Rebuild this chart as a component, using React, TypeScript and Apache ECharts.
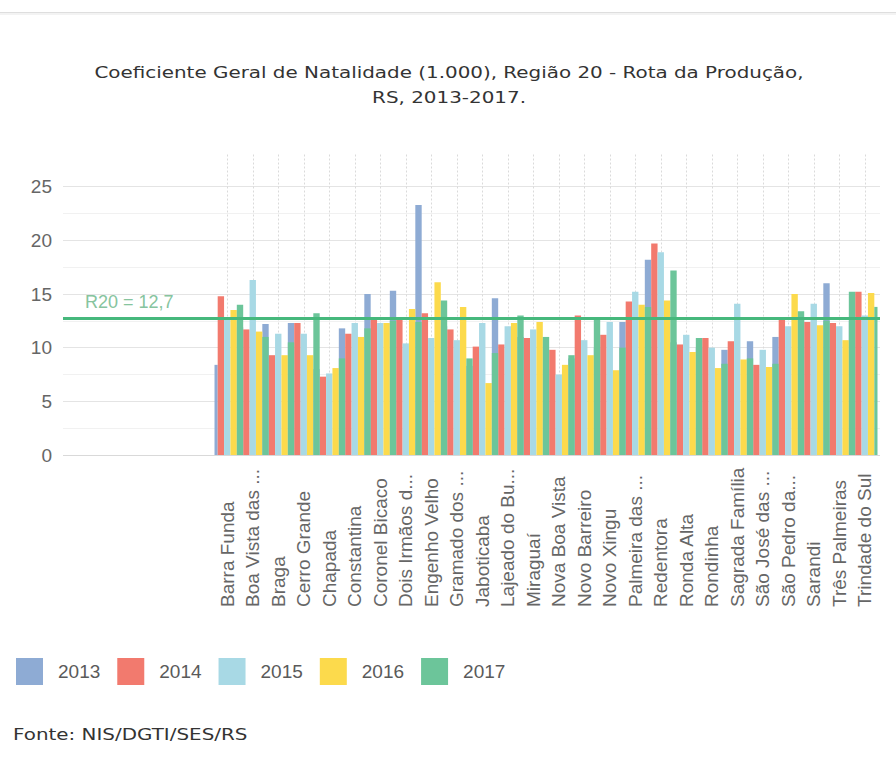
import React, { useEffect, useRef } from "react";
import * as echarts from "echarts";

const categories = [
  "Barra Funda", "Boa Vista das ...", "Braga", "Cerro Grande", "Chapada",
  "Constantina", "Coronel Bicaco", "Dois Irmãos d...", "Engenho Velho",
  "Gramado dos ...", "Jaboticaba", "Lajeado do Bu...", "Miraguaí",
  "Nova Boa Vista", "Novo Barreiro", "Novo Xingu", "Palmeira das ...",
  "Redentora", "Ronda Alta", "Rondinha", "Sagrada Família", "São José das ...",
  "São Pedro da...", "Sarandi", "Três Palmeiras", "Trindade do Sul",
];

const years = ["2013", "2014", "2015", "2016", "2017"];

const values2013 = [8.4, 11.9, 12.2, 12.3, 8.0, 11.8, 15.0, 15.3, 23.3, 12.0, 8.3, 14.6, 11.0, 8.0, 9.0, 10.0, 12.4, 18.2, 10.5, 10.0, 9.8, 10.6, 11.0, 12.8, 16.0, 12.5];
const values2014 = [14.8, 11.7, 9.3, 12.3, 7.3, 11.3, 12.6, 12.8, 13.2, 11.7, 10.1, 10.3, 10.9, 9.8, 13.0, 11.2, 14.3, 19.7, 10.3, 10.9, 10.6, 8.4, 12.6, 12.4, 12.3, 15.2];
const values2015 = [12.6, 16.3, 11.3, 11.3, 7.6, 12.3, 12.3, 10.4, 10.9, 10.7, 12.3, 12.0, 11.7, 7.5, 10.7, 12.4, 15.2, 18.9, 11.2, 10.0, 14.1, 9.8, 12.0, 14.1, 12.0, 13.0];
const values2016 = [13.5, 11.5, 9.3, 9.3, 8.1, 11.0, 12.3, 13.6, 16.1, 13.8, 6.7, 12.3, 12.4, 8.4, 9.3, 7.9, 14.0, 14.4, 9.6, 8.1, 8.9, 8.2, 15.0, 12.1, 10.7, 15.1];
const values2017 = [14.0, 11.0, 10.5, 13.2, 9.0, 11.8, 12.5, 12.4, 14.4, 9.0, 9.5, 13.0, 11.0, 9.3, 12.6, 10.0, 13.8, 17.2, 10.9, 8.5, 9.0, 8.5, 13.4, 12.5, 15.2, 13.8];

const seriesValues = [values2013, values2014, values2015, values2016, values2017];
const seriesColors = ["#8eabd4", "#f27a6e", "#a8d9e5", "#fcda4c", "#6cc59a"];

const regionAverage = 12.7;
const regionLabel = "R20 = 12,7";

const titleLines = [
  "Coeficiente Geral de Natalidade (1.000), Região 20 - Rota da Produção,",
  "RS, 2013-2017.",
];
const sourceText = "Fonte: NIS/DGTI/SES/RS";

const yMin = 0;
const yMax = 28;
const yStep = 2.5;
const yLabelStep = 5;

export default function App() {
  const ref = useRef<HTMLDivElement>(null);

  useEffect(() => {
    if (!ref.current) return;
    const chart = echarts.init(ref.current, null, { renderer: "svg" });

    const gridTop = 154.5;
    const gridHeight = 300.5;
    const barsLeft = 214.5;
    const barsWidth = 663;
    const band = barsWidth / categories.length;
    const barWidth = band / 4;
    const textStretch = 1.245;

    const splitColors: string[] = [];
    for (let i = 0; i < 12; i++) {
      if (i === 0) splitColors.push("#d9d9d9");
      else if (i === 11) splitColors.push("rgba(0,0,0,0)");
      else splitColors.push(i % 2 === 0 ? "#e4e4e4" : "#f1f1f1");
    }

    const option: any = {
      animation: false,
      backgroundColor: "#ffffff",
      legend: {
        data: years,
        left: 11,
        top: 653,
        itemWidth: 27,
        itemHeight: 27,
        itemGap: 17,
        icon: "rect",
        textStyle: {
          fontFamily: "Liberation Sans",
          fontSize: 19,
          color: "#5a5a5a",
          padding: [0, 0, 0, 10],
        },
      },
      graphic: [
        { type: "rect", left: 0, top: 12, shape: { width: 896, height: 1 }, style: { fill: "#dedede" } },
        { type: "rect", left: 0, top: 13, shape: { width: 896, height: 2 }, style: { fill: "#f3f3f3" } },
        ...titleLines.map((line, i) => ({
          type: "text",
          x: 449,
          y: 72 + i * 25,
          scaleX: textStretch,
          style: {
            text: line,
            font: "16px 'DejaVu Sans'",
            fill: "#333333",
            align: "center",
            verticalAlign: "middle",
          },
        })),
        {
          type: "text",
          x: 13,
          y: 734,
          scaleX: textStretch,
          style: {
            text: sourceText,
            font: "16px 'DejaVu Sans'",
            fill: "#333333",
            align: "left",
            verticalAlign: "middle",
          },
        },
      ],
      grid: [
        { left: 63, width: 817, top: gridTop, height: gridHeight },
        { left: barsLeft, width: barsWidth, top: gridTop, height: gridHeight },
        { left: barsLeft + band / 2, width: barsWidth - band, top: gridTop, height: gridHeight },
      ],
      xAxis: [
        { type: "value", gridIndex: 0, min: 0, max: 1, show: false },
        {
          type: "category",
          gridIndex: 1,
          data: categories,
          axisLine: { show: false },
          axisTick: { show: false },
          splitLine: { show: false },
          axisLabel: {
            interval: 0,
            rotate: 90,
            align: "left",
            verticalAlign: "middle",
            margin: 152,
            fontFamily: "Liberation Sans",
            fontSize: 19,
            color: "#666666",
          },
        },
        {
          type: "category",
          gridIndex: 2,
          data: categories,
          boundaryGap: false,
          axisLine: { show: false },
          axisTick: { show: false },
          axisLabel: { show: false },
          splitLine: {
            show: true,
            interval: 0,
            lineStyle: { color: "#dadada", width: 1, type: [2, 2] },
          },
        },
      ],
      yAxis: [
        {
          type: "value",
          gridIndex: 0,
          min: yMin,
          max: yMax,
          interval: yStep,
          axisLine: { show: false },
          axisTick: { show: false },
          axisLabel: {
            margin: 11,
            fontFamily: "Liberation Sans",
            fontSize: 19,
            color: "#666666",
            showMaxLabel: false,
            formatter: (v: number) => (v % yLabelStep === 0 ? String(v) : ""),
          },
          splitLine: {
            show: true,
            showMaxLine: false,
            lineStyle: { color: splitColors, width: 1 },
          },
        },
        { type: "value", gridIndex: 1, min: yMin, max: yMax, show: false, splitLine: { show: false } },
        { type: "value", gridIndex: 2, min: 0, max: 1, show: false, splitLine: { show: false } },
      ],
      series: [
        ...years.map((y, i) => ({
          name: y,
          type: "bar",
          xAxisIndex: 1,
          yAxisIndex: 1,
          data: seriesValues[i],
          barWidth: barWidth,
          barGap: "0%",
          itemStyle: { color: seriesColors[i] },
        })),
        {
          name: "R20",
          type: "line",
          xAxisIndex: 0,
          yAxisIndex: 0,
          data: [[0, regionAverage]],
          symbol: "none",
          lineStyle: { opacity: 0 },
          markLine: {
            silent: true,
            symbol: "none",
            lineStyle: { color: "#46b87c", width: 3, type: "solid" },
            label: {
              show: true,
              position: "insideStartTop",
              formatter: regionLabel,
              fontFamily: "Liberation Sans",
              fontSize: 18,
              color: "#86c49e",
              padding: [0, 0, 3, 17],
            },
            data: [{ yAxis: regionAverage }],
          },
        },
      ],
    };

    chart.setOption(option);
    return () => chart.dispose();
  }, []);

  return (
    <div
      ref={ref}
      style={{ position: "fixed", left: 0, top: 0, width: 896, height: 769, background: "#ffffff" }}
    />
  );
}
